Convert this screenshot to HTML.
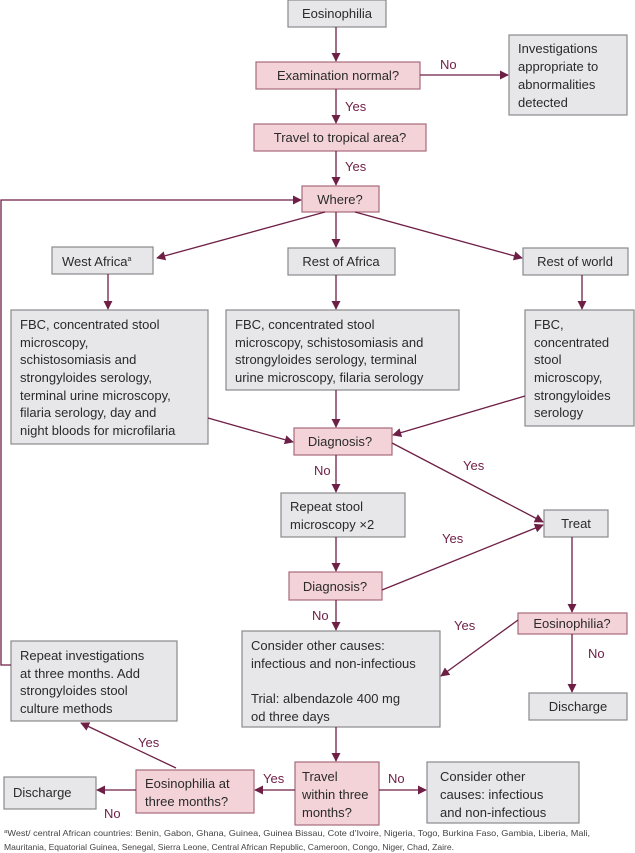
<!DOCTYPE html>
<html><head><meta charset="utf-8"><style>
html,body{margin:0;padding:0;background:#fff}
svg{display:block}
text{font-family:"Liberation Sans",sans-serif;font-size:13px;fill:#2a2a2a}
.p{fill:#f3d3d8;stroke:#a86a7c;stroke-width:1.2}
.g{fill:#e7e7e9;stroke:#8a8a8e;stroke-width:1.2}
.l{stroke:#6e1f45;stroke-width:1.3;fill:none}
.lb{fill:#6e1f45}
.f{font-size:8.2px;fill:#444}
</style></head><body>
<svg width="635" height="853" viewBox="0 0 635 853" xmlns="http://www.w3.org/2000/svg">
<defs><marker id="a" viewBox="0 0 10 10" refX="9" refY="5" markerWidth="7" markerHeight="7" orient="auto-start-reverse"><path d="M0,0 L10,5 L0,10 z" fill="#6e1f45"/></marker></defs>

<rect class="g" x="288" y="0" width="98" height="27"/>
<text x="337" y="18" text-anchor="middle">Eosinophilia</text>
<rect class="p" x="256" y="62" width="164" height="27"/>
<text x="338" y="80" text-anchor="middle">Examination normal?</text>
<rect class="g" x="509" y="35" width="118" height="80"/>
<text x="518" y="53">Investigations</text><text x="518" y="71">appropriate to</text><text x="518" y="89">abnormalities</text><text x="518" y="107">detected</text>
<rect class="p" x="254" y="124" width="172" height="27"/>
<text x="340" y="142" text-anchor="middle">Travel to tropical area?</text>
<rect class="p" x="302" y="186" width="77" height="26"/>
<text x="340" y="204" text-anchor="middle">Where?</text>
<rect class="g" x="52" y="247" width="101" height="27"/>
<text x="62" y="266">West Africa<tspan font-size="7" dy="-5">a</tspan></text>
<rect class="g" x="288" y="248" width="107" height="27"/>
<text x="341" y="266" text-anchor="middle">Rest of Africa</text>
<rect class="g" x="523" y="248" width="105" height="27"/>
<text x="575" y="266" text-anchor="middle">Rest of world</text>

<rect class="g" x="11" y="310" width="197" height="134"/>
<text x="20" y="329">FBC, concentrated stool</text><text x="20" y="347">microscopy,</text><text x="20" y="364">schistosomiasis and</text><text x="20" y="382">strongyloides serology,</text><text x="20" y="400">terminal urine microscopy,</text><text x="20" y="417">filaria serology, day and</text><text x="20" y="435">night bloods for microfilaria</text>
<rect class="g" x="226" y="310" width="233" height="80"/>
<text x="235" y="329">FBC, concentrated stool</text><text x="235" y="347">microscopy, schistosomiasis and</text><text x="235" y="364">strongyloides serology, terminal</text><text x="235" y="382">urine microscopy, filaria serology</text>
<rect class="g" x="525" y="310" width="109" height="116"/>
<text x="534" y="329">FBC,</text><text x="534" y="347">concentrated</text><text x="534" y="364">stool</text><text x="534" y="382">microscopy,</text><text x="534" y="400">strongyloides</text><text x="534" y="417">serology</text>

<rect class="p" x="294" y="428" width="98" height="27"/>
<text x="340" y="446" text-anchor="middle">Diagnosis?</text>
<rect class="g" x="281" y="493" width="124" height="44"/>
<text x="290" y="511">Repeat stool</text><text x="290" y="529">microscopy ×2</text>
<rect class="g" x="544" y="510" width="64" height="27"/>
<text x="576" y="528" text-anchor="middle">Treat</text>
<rect class="p" x="289" y="572" width="93" height="28"/>
<text x="335" y="591" text-anchor="middle">Diagnosis?</text>
<rect class="p" x="518" y="613" width="109" height="21"/>
<text x="572" y="628" text-anchor="middle">Eosinophilia?</text>
<rect class="g" x="242" y="631" width="198" height="96"/>
<text x="251" y="650">Consider other causes:</text><text x="251" y="668">infectious and  non-infectious</text><text x="251" y="703">Trial: albendazole 400 mg</text><text x="251" y="721">od three days</text>
<rect class="g" x="529" y="693" width="98" height="27"/>
<text x="578" y="711" text-anchor="middle">Discharge</text>
<rect class="g" x="11" y="641" width="166" height="80"/>
<text x="20" y="660">Repeat investigations</text><text x="20" y="678">at three months. Add</text><text x="20" y="695">strongyloides stool</text><text x="20" y="713">culture methods</text>
<rect class="p" x="295" y="762" width="84" height="63"/>
<text x="302" y="781">Travel</text><text x="302" y="799">within three</text><text x="302" y="817">months?</text>
<rect class="p" x="136" y="770" width="118" height="43"/>
<text x="145" y="788">Eosinophilia at</text><text x="145" y="806">three months?</text>
<rect class="g" x="4" y="777" width="92" height="32"/>
<text x="13" y="797">Discharge</text>
<rect class="g" x="427" y="762" width="152" height="61"/>
<text x="440" y="781">Consider other</text><text x="440" y="799">causes: infectious</text><text x="440" y="817">and non-infectious</text>

<path class="l" marker-end="url(#a)" d="M336,27 V61"/>
<path class="l" marker-end="url(#a)" d="M420,75 H508"/>
<path class="l" marker-end="url(#a)" d="M336,89 V123"/>
<path class="l" marker-end="url(#a)" d="M336,151 V185"/>
<path class="l" marker-end="url(#a)" d="M325,212 L157,258"/>
<path class="l" marker-end="url(#a)" d="M336,212 V247"/>
<path class="l" marker-end="url(#a)" d="M355,212 L522,258"/>
<path class="l" marker-end="url(#a)" d="M108,274 V309"/>
<path class="l" marker-end="url(#a)" d="M336,275 V309"/>
<path class="l" marker-end="url(#a)" d="M582,275 V309"/>
<path class="l" marker-end="url(#a)" d="M208,418 L293,442"/>
<path class="l" marker-end="url(#a)" d="M336,390 V427"/>
<path class="l" marker-end="url(#a)" d="M525,396 L393,435"/>
<path class="l" marker-end="url(#a)" d="M392,443 L543,522"/>
<path class="l" marker-end="url(#a)" d="M336,455 V492"/>
<path class="l" marker-end="url(#a)" d="M336,537 V571"/>
<path class="l" marker-end="url(#a)" d="M382,590 L543,525"/>
<path class="l" marker-end="url(#a)" d="M572,537 V612"/>
<path class="l" marker-end="url(#a)" d="M336,600 V630"/>
<path class="l" marker-end="url(#a)" d="M518,620 L441,676"/>
<path class="l" marker-end="url(#a)" d="M572,634 V692"/>
<path class="l" marker-end="url(#a)" d="M336,727 V761"/>
<path class="l" marker-end="url(#a)" d="M295,790 H255"/>
<path class="l" marker-end="url(#a)" d="M379,790 H426"/>
<path class="l" marker-end="url(#a)" d="M136,790 H97"/>
<path class="l" marker-end="url(#a)" d="M176,768 L81,723"/>
<path class="l" marker-end="url(#a)" d="M11,665 H1 V200 H301"/>

<text class="lb" x="440" y="69">No</text>
<text class="lb" x="345" y="111">Yes</text>
<text class="lb" x="345" y="171">Yes</text>
<text class="lb" x="314" y="475">No</text>
<text class="lb" x="463" y="470">Yes</text>
<text class="lb" x="442" y="543">Yes</text>
<text class="lb" x="312" y="620">No</text>
<text class="lb" x="454" y="630">Yes</text>
<text class="lb" x="588" y="658">No</text>
<text class="lb" x="138" y="747">Yes</text>
<text class="lb" x="263" y="783">Yes</text>
<text class="lb" x="388" y="783">No</text>
<text class="lb" x="104" y="818">No</text>

<text class="f" x="4" y="836" textLength="586" lengthAdjust="spacingAndGlyphs"><tspan font-size="5.5" dy="-3">a</tspan><tspan dy="3">West/ central African countries: Benin, Gabon, Ghana, Guinea, Guinea Bissau, Cote d’Ivoire, Nigeria, Togo, Burkina Faso, Gambia, Liberia, Mali,</tspan></text>
<text class="f" x="4" y="850" textLength="450" lengthAdjust="spacingAndGlyphs">Mauritania, Equatorial Guinea, Senegal, Sierra Leone, Central African Republic, Cameroon, Congo, Niger, Chad, Zaire.</text>
</svg>
</body></html>
